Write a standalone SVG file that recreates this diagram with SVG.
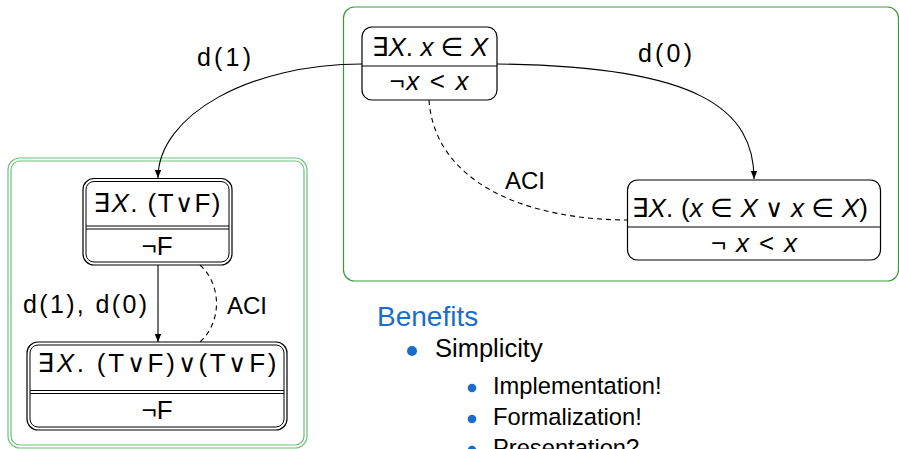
<svg xmlns="http://www.w3.org/2000/svg" width="899" height="449" viewBox="0 0 899 449">
<style>
text{font-family:"Liberation Sans","DejaVu Sans",Arial,sans-serif;fill:#000}
.m{font-size:26px}
.i{font-style:italic}
.o{font-family:"DejaVu Sans ExtraLight","DejaVu Sans",sans-serif;font-size:25px;font-weight:200}
.lbl{font-size:24px}
.dl{font-size:25px}
.node{fill:#fff;stroke:#000;stroke-width:1.2}
.dn{fill:none;stroke:#000;stroke-width:1}
.edge{fill:none;stroke:#000;stroke-width:1.1}
.dash{stroke-dasharray:5,4}
.bul{fill:#1a6dc8}
</style>
<defs>
<marker id="ah" viewBox="0 0 10 10" refX="10" refY="5" markerWidth="8" markerHeight="8" markerUnits="userSpaceOnUse" orient="auto">
<path d="M0,1 L10,5 L0,9 Z" fill="#000"/>
</marker>
</defs>
<g id="group-right">
<rect x="343.5" y="7" width="555" height="274" rx="11" fill="none" stroke="#3a9a3a" stroke-width="1.2"/>
</g>
<g id="group-left">
<rect x="8" y="158" width="299" height="290" rx="12" fill="none" stroke="#6cc07c" stroke-width="1.2"/>
<rect x="11" y="161" width="293" height="284" rx="9" fill="none" stroke="#6cc07c" stroke-width="1.2"/>
</g>
<g id="connectors">
<path class="edge" d="M362,64 C250,64 158,115 158,178" marker-end="url(#ah)"/>
<path class="edge" d="M497,64 C700,66 754,110 754,179" marker-end="url(#ah)"/>
<path class="edge dash" d="M429,100 C435,185 530,220 628,220"/>
<path class="edge" d="M158,265 L158,342" marker-end="url(#ah)"/>
<path class="edge dash" d="M200,265 C222,285 222,322 200,342"/>
<text class="dl" x="197" y="66" textLength="54" lengthAdjust="spacing">d(1)</text>
<text class="dl" x="638" y="62" textLength="54" lengthAdjust="spacing">d(0)</text>
<text class="lbl" x="505" y="189">ACI</text>
<text class="dl" x="23" y="313" textLength="124" lengthAdjust="spacing">d(1), d(0)</text>
<text class="lbl" x="227" y="314">ACI</text>
</g>
<g id="node-top">
<rect class="node" x="362" y="27" width="135" height="73" rx="10"/>
<line class="dn" x1="362" y1="66" x2="497" y2="66"/>
<text class="m" x="430" y="56" text-anchor="middle" textLength="116" lengthAdjust="spacing">∃<tspan class="i">X</tspan>. <tspan class="i">x</tspan> ∈ <tspan class="i">X</tspan></text>
<text class="m" x="429" y="90" text-anchor="middle" textLength="79" lengthAdjust="spacing">¬<tspan class="i">x</tspan> &lt; <tspan class="i">x</tspan></text>
</g>
<g id="node-right">
<rect class="node" x="627.5" y="180" width="253" height="80" rx="10"/>
<line class="dn" x1="627.5" y1="227" x2="880.5" y2="227"/>
<text class="m" x="750" y="217" text-anchor="middle" textLength="236" lengthAdjust="spacing">∃<tspan class="i">X</tspan>. (<tspan class="i">x</tspan> ∈ <tspan class="i">X</tspan> <tspan class="o">∨</tspan> <tspan class="i">x</tspan> ∈ <tspan class="i">X</tspan>)</text>
<text class="m" x="754" y="252" text-anchor="middle" textLength="86" lengthAdjust="spacing">¬ <tspan class="i">x</tspan> &lt; <tspan class="i">x</tspan></text>
</g>
<g id="node-left-top">
<rect class="node" x="83" y="178.5" width="149" height="86.5" rx="11"/>
<rect class="dn" x="86" y="181.5" width="143" height="80.5" rx="8"/>
<line class="dn" x1="86" y1="226" x2="229" y2="226"/>
<line class="dn" x1="86" y1="229" x2="229" y2="229"/>
<text class="m" x="157" y="212" text-anchor="middle" textLength="127" lengthAdjust="spacing">∃<tspan class="i">X</tspan>. (T<tspan class="o">∨</tspan>F)</text>
<text class="m" x="157" y="255" text-anchor="middle">¬F</text>
</g>
<g id="node-left-bottom">
<rect class="node" x="27" y="342" width="260" height="88" rx="11"/>
<rect class="dn" x="30" y="345" width="254" height="82" rx="8"/>
<line class="dn" x1="30" y1="390.5" x2="284" y2="390.5"/>
<line class="dn" x1="30" y1="393.5" x2="284" y2="393.5"/>
<text class="m" x="157" y="372" text-anchor="middle" textLength="239" lengthAdjust="spacing">∃<tspan class="i">X</tspan>. (T<tspan class="o">∨</tspan>F)<tspan class="o">∨</tspan>(T<tspan class="o">∨</tspan>F)</text>
<text class="m" x="157" y="419" text-anchor="middle">¬F</text>
</g>
<g id="benefits">
<text x="377" y="326" font-size="28" style="fill:#1a6dc8">Benefits</text>
<circle class="bul" cx="412" cy="351" r="5"/>
<text x="435" y="357" font-size="25.5">Simplicity</text>
<circle class="bul" cx="472" cy="388" r="4.3"/>
<text x="493" y="394" font-size="23.7">Implementation!</text>
<circle class="bul" cx="472" cy="419" r="4.3"/>
<text x="493" y="425" font-size="23.7">Formalization!</text>
<circle class="bul" cx="472" cy="450" r="4.3"/>
<text x="493" y="456" font-size="23.7">Presentation?</text>
</g>
</svg>
